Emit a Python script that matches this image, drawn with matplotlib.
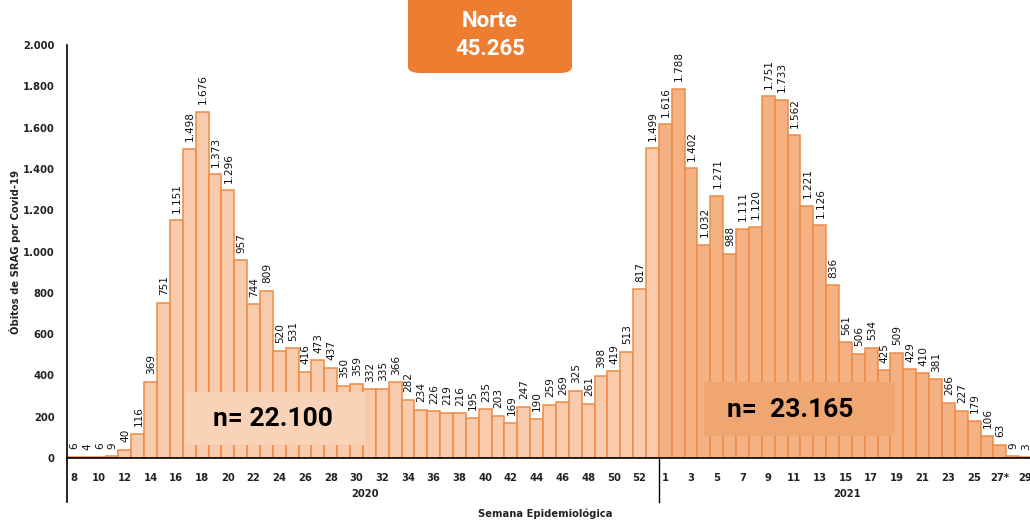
import matplotlib
matplotlib.use("Agg")
import matplotlib.pyplot as plt
from matplotlib.patches import Rectangle, FancyBboxPatch
from matplotlib.lines import Line2D
from matplotlib.ticker import FuncFormatter

weeks_2020 = list(range(8, 54))
deaths_2020 = [6, 4, 6, 9, 40, 116, 369, 751, 1151, 1498, 1676, 1373, 1296, 957, 744, 809,
               520, 531, 416, 473, 437, 350, 359, 332, 335, 366, 282, 234, 226, 219, 216, 195,
               235, 203, 169, 247, 190, 259, 269, 325, 261, 398, 419, 513, 817, 1499]
weeks_2021 = list(range(1, 30))
deaths_2021 = [1616, 1788, 1402, 1032, 1271, 988, 1111, 1120, 1751, 1733, 1562, 1221, 1126, 836,
               561, 506, 534, 425, 509, 429, 410, 381, 266, 227, 179, 106, 63, 9, 3]
yticks = [0, 200, 400, 600, 800, 1000, 1200, 1400, 1600, 1800, 2000]
title_text = "Norte\n45.265"
n_2020 = "n= 22.100"
n_2021 = "n=  23.165"
ylabel = "Óbitos de SRAG por Covid-19"
xlabel = "Semana Epidemiológica"

def br(v):
    return f"{v:,}".replace(",", ".")

W, H = 1030, 521
fig = plt.figure(figsize=(W / 100, H / 100), dpi=100)
ax = fig.add_axes([67 / W, (H - 458) / H, (1032 - 67) / W, (458 - 45) / H])

n20 = len(deaths_2020)
x20 = list(range(n20))
x21 = [n20 + i for i in range(len(deaths_2021))]
edge = "#EE8A45"
ax.bar(x20, deaths_2020, width=1.0, color="#F8CBAD", edgecolor=edge, linewidth=1.1, zorder=2)
ax.bar(x21, deaths_2021, width=1.0, color="#F4B183", edgecolor=edge, linewidth=1.1, zorder=2)

for x, v in zip(x20 + x21, deaths_2020 + deaths_2021):
    ax.annotate(br(v), (x, v), xytext=(0.5, 5.5), textcoords="offset points",
                rotation=90, ha="center", va="bottom", fontsize=7.6,
                fontweight="normal", color="#111111", zorder=3, annotation_clip=False)

ax.set_xlim(-0.5, n20 + len(deaths_2021) - 0.5)
ax.set_ylim(0, 2000)
ax.set_yticks(yticks)
ax.yaxis.set_major_formatter(FuncFormatter(lambda v, p: br(int(v))))
ax.tick_params(axis="y", length=0, pad=9, labelsize=7.2, colors="#222222")
for lab in ax.get_yticklabels():
    lab.set_fontweight("bold")

tick_pos = [x for x, w in zip(x20, weeks_2020) if w % 2 == 0] + \
           [x for x, w in zip(x21, weeks_2021) if w % 2 == 1]
tick_lab = [str(w) for w in weeks_2020 if w % 2 == 0] + \
           [(str(w) + "*" if w == 27 else str(w)) for w in weeks_2021 if w % 2 == 1]
ax.set_xticks(tick_pos)
ax.set_xticklabels(tick_lab)
ax.tick_params(axis="x", length=0, pad=11, labelsize=7.2, colors="#222222")
for lab in ax.get_xticklabels():
    lab.set_fontweight("bold")

for s in ["top", "right"]:
    ax.spines[s].set_visible(False)
ax.spines["left"].set_linewidth(1.2)
ax.spines["bottom"].set_linewidth(1.2)
ax.spines["left"].set_bounds(0, 2000)

# divider lines below axis
ax_h = 458 - 45
ext = -(502 - 458) / ax_h
ax.add_line(Line2D([-0.5, -0.5], [0, ext * 2000], color="black", lw=1.2, clip_on=False,
                   transform=ax.transData))
ax.add_line(Line2D([n20 - 0.5, n20 - 0.5], [0, ext * 2000], color="black", lw=1.0,
                   clip_on=False, transform=ax.transData))

fig.text(365 / W, 1 - 494 / H, "2020", ha="center", va="center", fontsize=7.2,
         fontweight="bold", color="#222222")
fig.text(847 / W, 1 - 494 / H, "2021", ha="center", va="center", fontsize=7.2,
         fontweight="bold", color="#222222")
fig.text(545 / W, 1 - 514 / H, xlabel, ha="center", va="center", fontsize=7.2,
         fontweight="bold", color="#222222")
fig.text(15 / W, 1 - 252 / H, ylabel, ha="center", va="center", rotation=90,
         fontsize=7.2, fontweight="bold", color="#222222")

# n boxes
fig.patches.append(Rectangle((185 / W, 1 - 445 / H), 180 / W, 53 / H, transform=fig.transFigure,
                             facecolor="#F9D3B8", edgecolor="none", zorder=5))
fig.text(273 / W, 1 - 419 / H, n_2020, ha="center", va="center", fontsize=19,
         fontweight="bold", family="Roboto", color="black", zorder=6)
fig.patches.append(Rectangle((704 / W, 1 - 436 / H), 191 / W, 54 / H, transform=fig.transFigure,
                             facecolor="#F0A670", edgecolor="none", zorder=5))
fig.text(790 / W, 1 - 410 / H, n_2021, ha="center", va="center", fontsize=19,
         fontweight="bold", family="Roboto", color="black", zorder=6)

# title box
fig.patches.append(FancyBboxPatch((408 / W, 1 - 73 / H), 164 / W, 90 / H,
                                  boxstyle="round,pad=0,rounding_size=0.012",
                                  transform=fig.transFigure, facecolor="#ED7D31",
                                  edgecolor="none", zorder=5, mutation_aspect=H / W * 1.9))
fig.text(490 / W, 1 - 21 / H, "Norte", ha="center", va="center", fontsize=16,
         fontweight="bold", family="Roboto", color="white", zorder=6)
fig.text(490 / W, 1 - 49 / H, "45.265", ha="center", va="center", fontsize=16,
         fontweight="bold", family="Roboto", color="white", zorder=6)

fig.savefig("out.png", dpi=100)
